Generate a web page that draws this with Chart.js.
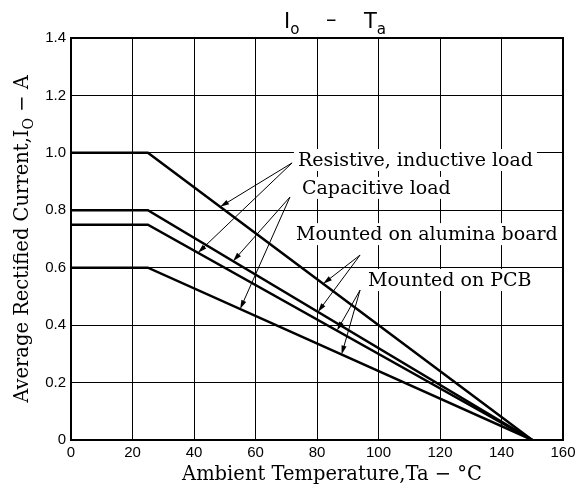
<!DOCTYPE html>
<html>
<head>
<meta charset="utf-8">
<script src="https://cdn.jsdelivr.net/npm/chart.js@4.4.0/dist/chart.umd.min.js"></script>
<style>
  html, body { margin: 0; padding: 0; background: #fff; }
  #wrap { width: 576px; height: 488px; }
</style>
</head>
<body>
<div id="wrap"><canvas id="derating"></canvas></div>
<script>
// Io - Ta derating curves
const temps = [0, 25, 150];
const resistiveAlumina = [1.0, 1.0, 0];
const capacitiveAlumina = [0.8, 0.8, 0];
const resistivePCB = [0.75, 0.75, 0];
const capacitivePCB = [0.6, 0.6, 0];

const xTicks = [0, 20, 40, 60, 80, 100, 120, 140, 160];
const yTicks = [0, 0.2, 0.4, 0.6, 0.8, 1.0, 1.2, 1.4];

// labels with arrows: text anchor / arrow origin in data units, targets = [dataset, temp]
const notes = [
    { text: 'Resistive, inductive load', at: [73.8, 0.975], from: [71.9, 0.965], to: [[0, 48.5], [2, 41.3]] },
    { text: 'Capacitive load', at: [75.1, 0.878], from: [71.2, 0.846], to: [[1, 52.7], [3, 55]] },
    { text: 'Mounted on alumina board', at: [73.2, 0.717], from: [94, 0.644], to: [[0, 82], [1, 80.3]] },
    { text: 'Mounted on PCB', at: [96.6, 0.557], from: [94, 0.522], to: [[2, 86.5], [3, 88]] }
];

const noteFont = '19px "DejaVu Serif"';
const titleFont = '"DejaVu Serif"';

function series(values) {
    return temps.map((t, i) => ({ x: t, y: values[i] }));
}

function valueAt(values, t) {
    for (let i = 0; i < temps.length - 1; i++) {
        if (t >= temps[i] && t <= temps[i + 1]) {
            const f = (t - temps[i]) / (temps[i + 1] - temps[i]);
            return values[i] + f * (values[i + 1] - values[i]);
        }
    }
    return values[values.length - 1];
}

const allSeries = [resistiveAlumina, capacitiveAlumina, resistivePCB, capacitivePCB];

function arrow(ctx, x1, y1, x2, y2) {
    const a = Math.atan2(y2 - y1, x2 - x1);
    const len = 9, hw = 2.6;
    ctx.beginPath();
    ctx.moveTo(x1, y1);
    ctx.lineTo(x2 - Math.cos(a) * len * 0.8, y2 - Math.sin(a) * len * 0.8);
    ctx.stroke();
    ctx.beginPath();
    ctx.moveTo(x2, y2);
    ctx.lineTo(x2 - Math.cos(a) * len - Math.sin(a) * hw, y2 - Math.sin(a) * len + Math.cos(a) * hw);
    ctx.lineTo(x2 - Math.cos(a) * len + Math.sin(a) * hw, y2 - Math.sin(a) * len - Math.cos(a) * hw);
    ctx.closePath();
    ctx.fill();
}

// draws text parts [{t, sub}] left to right starting at x, baseline y
function drawParts(ctx, parts, x, y, size, family) {
    parts.forEach(p => {
        const s = p.sub ? size * 0.72 : size;
        ctx.font = s + 'px ' + family;
        ctx.fillText(p.t, x, y + (p.sub ? size * 0.28 : 0));
        x += ctx.measureText(p.t).width;
    });
}

function partsWidth(ctx, parts, size, family) {
    let w = 0;
    parts.forEach(p => {
        ctx.font = (p.sub ? size * 0.72 : size) + 'px ' + family;
        w += ctx.measureText(p.t).width;
    });
    return w;
}

const notesPlugin = {
    id: 'notes',
    beforeDatasetsDraw(chart) {
        const { ctx, scales: { x, y } } = chart;
        ctx.save();
        ctx.font = noteFont;
        ctx.fillStyle = '#fff';
        notes.forEach(n => {
            const w = ctx.measureText(n.text).width;
            const px = x.getPixelForValue(n.at[0]);
            const py = y.getPixelForValue(n.at[1]);
            ctx.fillRect(px - 4, py - 11, w + 8, 22);
        });
        ctx.restore();
    },
    afterDatasetsDraw(chart) {
        const { ctx, scales: { x, y } } = chart;
        ctx.save();
        ctx.fillStyle = '#000';
        ctx.strokeStyle = '#000';
        ctx.lineWidth = 1;
        ctx.font = noteFont;
        ctx.textBaseline = 'middle';
        notes.forEach(n => {
            ctx.fillText(n.text, x.getPixelForValue(n.at[0]), y.getPixelForValue(n.at[1]) + 1);
            const ox = x.getPixelForValue(n.from[0]);
            const oy = y.getPixelForValue(n.from[1]);
            n.to.forEach(([ds, t]) => {
                arrow(ctx, ox, oy, x.getPixelForValue(t), y.getPixelForValue(valueAt(allSeries[ds], t)));
            });
        });
        ctx.restore();
    },
    afterDraw(chart) {
        const { ctx, chartArea: a } = chart;
        ctx.save();
        // frame
        ctx.strokeStyle = '#000';
        ctx.lineWidth = 2;
        ctx.strokeRect(a.left, a.top, a.right - a.left, a.bottom - a.top);
        ctx.fillStyle = '#000';
        ctx.textBaseline = 'alphabetic';

        // title Io - Ta
        const tf = '"DejaVu Sans"';
        drawParts(ctx, [{ t: 'I' }, { t: 'o', sub: true }], 284, 28, 21, tf);
        ctx.font = '21px ' + tf;
        ctx.fillText('\u2013', 326, 26);
        drawParts(ctx, [{ t: 'T' }, { t: 'a', sub: true }], 364, 28, 21, tf);

        // x axis title
        const xt = [{ t: 'Ambient Temperature,Ta \u2212 \u00b0C' }];
        const xw = partsWidth(ctx, xt, 19.5, titleFont);
        drawParts(ctx, xt, 332 - xw / 2, 480, 19.5, titleFont);

        // y axis title
        const yt = [{ t: 'Average Rectified Current,I' }, { t: 'O', sub: true }, { t: ' \u2212 A' }];
        const yw = partsWidth(ctx, yt, 19.5, titleFont);
        ctx.translate(28, (a.top + a.bottom) / 2);
        ctx.rotate(-Math.PI / 2);
        drawParts(ctx, yt, -yw / 2, 0, 19.5, titleFont);
        ctx.restore();
    }
};

const lineStyle = { borderColor: '#000', borderWidth: 2.5, pointRadius: 0, tension: 0, fill: false };

new Chart(document.getElementById('derating'), {
    type: 'line',
    data: {
        datasets: [
            { label: 'Resistive, alumina', data: series(resistiveAlumina), ...lineStyle },
            { label: 'Capacitive, alumina', data: series(capacitiveAlumina), ...lineStyle },
            { label: 'Resistive, PCB', data: series(resistivePCB), ...lineStyle },
            { label: 'Capacitive, PCB', data: series(capacitivePCB), ...lineStyle }
        ]
    },
    options: {
        responsive: true,
        maintainAspectRatio: false,
        animation: false,
        layout: { padding: { top: 38, right: 13, left: 0, bottom: 0 } },
        plugins: { legend: { display: false }, tooltip: { enabled: false } },
        scales: {
            x: {
                type: 'linear',
                min: xTicks[0],
                max: xTicks[xTicks.length - 1],
                afterBuildTicks: s => { s.ticks = xTicks.map(v => ({ value: v })); },
                afterFit: s => { s.height = 48; s.paddingLeft = 0; s.paddingRight = 0; },
                grid: { color: '#000', lineWidth: 1, drawTicks: false },
                border: { color: '#000', width: 2 },
                ticks: { color: '#000', padding: 4, font: { family: 'Liberation Sans', size: 15 } }
            },
            y: {
                min: yTicks[0],
                max: yTicks[yTicks.length - 1],
                afterBuildTicks: s => { s.ticks = yTicks.map(v => ({ value: v })); },
                afterFit: s => { s.width = 71; s.paddingTop = 0; s.paddingBottom = 0; },
                grid: { color: '#000', lineWidth: 1, drawTicks: false },
                border: { color: '#000', width: 2 },
                ticks: {
                    color: '#000', padding: 5,
                    font: { family: 'Liberation Sans', size: 15 },
                    callback: v => v === 0 ? '0' : v.toFixed(1)
                }
            }
        }
    },
    plugins: [notesPlugin]
});
</script>
</body>
</html>
